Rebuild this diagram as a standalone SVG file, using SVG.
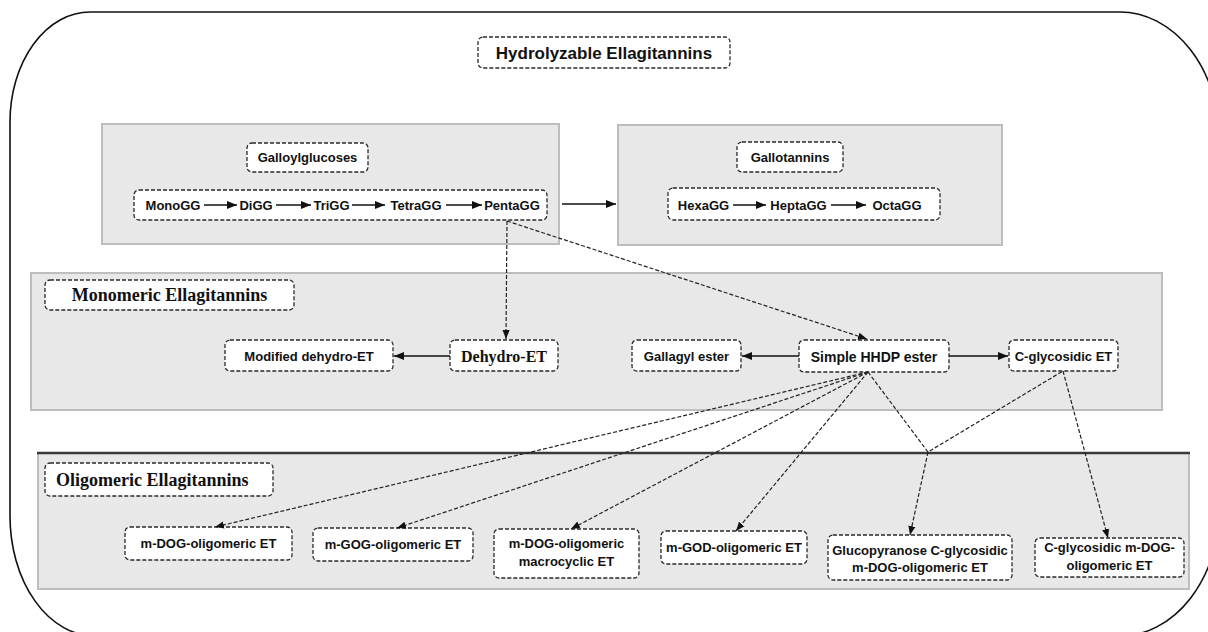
<svg xmlns="http://www.w3.org/2000/svg" width="1208" height="632" viewBox="0 0 1208 632">
<style>
.grp{fill:#e8e8e8;stroke:#bdbdbd;stroke-width:2}
.nd{fill:#fff;stroke:#2a2a2a;stroke-width:1.3;stroke-dasharray:4 2}
.t{font-family:"Liberation Sans",Arial,sans-serif;font-weight:bold;font-size:13px;fill:#111;text-anchor:middle}
.ts{font-family:"Liberation Serif","Times New Roman",serif;font-weight:bold;fill:#111}
.sol{stroke:#111;stroke-width:1.5;fill:none;marker-end:url(#ah)}
.dsh{stroke:#222;stroke-width:1.2;fill:none;stroke-dasharray:4 2}
.dar{marker-end:url(#ah2)}
</style>
<defs>
<marker id="ah" markerUnits="userSpaceOnUse" markerWidth="10" markerHeight="10" viewBox="0 0 10 10" refX="10" refY="5" orient="auto"><path d="M0,1 L10,5 L0,9 Z" fill="#111"/></marker>
<marker id="ah2" markerUnits="userSpaceOnUse" markerWidth="9" markerHeight="9" viewBox="0 0 10 10" refX="10" refY="5" orient="auto"><path d="M0,1 L10,5 L0,9 Z" fill="#111"/></marker>
</defs>
<rect width="1208" height="632" fill="#fff"/>
<path d="M10,122 A80 110 0 0 1 90,12 L1120,12 A100 130 0 0 1 1220,142 L1220,506 A100 130 0 0 1 1120,636 L95,636 A85 120 0 0 1 10,516 Z" fill="none" stroke="#111" stroke-width="1.6"/>

<g id="title"><rect class="nd" x="478" y="37" width="252" height="31" rx="5"/><text class="t" x="604" y="58.5" style="font-size:17px">Hydrolyzable Ellagitannins</text></g>

<g id="galloylglucoses-group"><rect class="grp" x="102" y="124" width="457" height="120"/></g>
<g id="gallotannins-group"><rect class="grp" x="618" y="125" width="384" height="120"/></g>
<g id="monomeric-group"><rect class="grp" x="31" y="273" width="1131" height="137"/></g>
<g id="oligomeric-group"><rect class="grp" x="38" y="453" width="1151" height="136"/><line x1="37" y1="453" x2="1190" y2="453" stroke="#3a3a3a" stroke-width="2.5"/></g>

<g id="galloylglucoses"><rect class="nd" x="247" y="143" width="121" height="29" rx="5"/><text class="t" x="307.5" y="162">Galloylglucoses</text></g>
<g id="gg-chain"><rect class="nd" x="134" y="190" width="413" height="30" rx="5"/>
<text class="t" x="173" y="209.5">MonoGG</text><text class="t" x="256" y="209.5">DiGG</text><text class="t" x="331.5" y="209.5">TriGG</text><text class="t" x="416" y="209.5">TetraGG</text><text class="t" x="512" y="209.5">PentaGG</text></g>
<g id="gallotannins"><rect class="nd" x="737" y="142" width="106" height="30" rx="5"/><text class="t" x="790" y="161.5">Gallotannins</text></g>
<g id="gt-chain"><rect class="nd" x="668" y="188" width="272" height="32" rx="5"/>
<text class="t" x="703.5" y="209.5">HexaGG</text><text class="t" x="798.5" y="209.5">HeptaGG</text><text class="t" x="897" y="209.5">OctaGG</text></g>

<g id="monomeric-label"><rect class="nd" x="45" y="280" width="249" height="30" rx="5"/><text class="ts" x="169.5" y="301" text-anchor="middle" font-size="18">Monomeric Ellagitannins</text></g>
<g id="modified-dehydro"><rect class="nd" x="225" y="340" width="168" height="31" rx="5"/><text class="t" x="309" y="360.5">Modified dehydro-ET</text></g>
<g id="dehydro"><rect class="nd" x="450" y="340" width="108" height="31" rx="5"/><text class="ts" x="504" y="361.5" text-anchor="middle" font-size="16">Dehydro-ET</text></g>
<g id="gallagyl"><rect class="nd" x="632" y="340" width="109" height="31" rx="5"/><text class="t" x="686.5" y="360.5">Gallagyl ester</text></g>
<g id="hhdp"><rect class="nd" x="799" y="340" width="150" height="32" rx="5"/><text class="t" x="874" y="361.5" style="font-size:14px">Simple HHDP ester</text></g>
<g id="c-glycosidic"><rect class="nd" x="1009" y="340" width="109" height="31" rx="5"/><text class="t" x="1063.5" y="360.5">C-glycosidic ET</text></g>

<g id="oligomeric-label"><rect class="nd" x="45" y="463" width="228" height="33" rx="5"/><text class="ts" x="56" y="486" font-size="18">Oligomeric Ellagitannins</text></g>
<g id="m-dog"><rect class="nd" x="125" y="527" width="167" height="33" rx="5"/><text class="t" x="208.5" y="548">m-DOG-oligomeric ET</text></g>
<g id="m-gog"><rect class="nd" x="313" y="528" width="160" height="33" rx="5"/><text class="t" x="393" y="549">m-GOG-oligomeric ET</text></g>
<g id="m-dog-macro"><rect class="nd" x="494" y="529" width="145" height="49" rx="5"/><text class="t" x="566.5" y="548">m-DOG-oligomeric</text><text class="t" x="566.5" y="566">macrocyclic ET</text></g>
<g id="m-god"><rect class="nd" x="661" y="531" width="146" height="33" rx="5"/><text class="t" x="734" y="552">m-GOD-oligomeric ET</text></g>
<g id="gluco"><rect class="nd" x="828" y="535" width="184" height="45" rx="5"/><text class="t" x="920" y="554.5">Glucopyranose C-glycosidic</text><text class="t" x="920" y="571.5">m-DOG-oligomeric ET</text></g>
<g id="c-gly-m-dog"><rect class="nd" x="1035" y="538" width="149" height="39" rx="5"/><text class="t" x="1109.5" y="551.5">C-glycosidic m-DOG-</text><text class="t" x="1109.5" y="569.5">oligomeric ET</text></g>

<g id="connectors">
<line class="sol" x1="204" y1="205" x2="237" y2="205"/>
<line class="sol" x1="276" y1="205" x2="311" y2="205"/>
<line class="sol" x1="352" y1="205" x2="385" y2="205"/>
<line class="sol" x1="446" y1="205" x2="482" y2="205"/>
<line class="sol" x1="733" y1="205" x2="766" y2="205"/>
<line class="sol" x1="831" y1="205" x2="866" y2="205"/>
<line class="sol" x1="562" y1="204" x2="616" y2="204"/>
<line class="sol" x1="450" y1="356" x2="394" y2="356"/>
<line class="sol" x1="799" y1="356" x2="742" y2="356"/>
<line class="sol" x1="949" y1="356" x2="1008" y2="356"/>
<path class="dsh dar" d="M507,221 L506,339"/>
<path class="dsh dar" d="M507,221 L867,339"/>
<path class="dsh dar" d="M868,372 L215,527"/>
<path class="dsh dar" d="M868,372 L397,528"/>
<path class="dsh dar" d="M868,372 L571,529"/>
<path class="dsh dar" d="M868,372 L736,531"/>
<path class="dsh" d="M868,372 L928,452 L1063,371"/>
<path class="dsh dar" d="M928,452 L910,535"/>
<path class="dsh dar" d="M1063,371 L1108,538"/>
</g>
</svg>
